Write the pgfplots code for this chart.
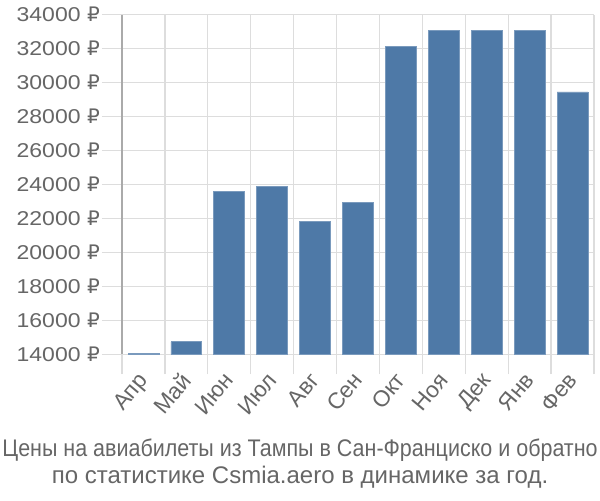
\documentclass[border=0pt]{standalone}
\usepackage{pgfplots}
\pgfplotsset{compat=1.18}
\usepackage{fontspec}
\setmainfont{Liberation Sans}
\newfontfamily\narrowfont{Liberation Sans}[FakeStretch=0.895]
\newfontfamily\widefont{Liberation Sans}[FakeStretch=1.15]
\newfontfamily\rubfont{DejaVu Sans}
\newcommand{\rub}{{\rubfont ₽}}
\definecolor{barblue}{HTML}{4E79A7}
\definecolor{txt}{HTML}{666666}
\definecolor{gridc}{HTML}{DDDDDD}
\definecolor{axc}{HTML}{AAAAAA}
\begin{document}
\begin{tikzpicture}[x=1pt,y=1pt]
\useasboundingbox (-91.5,-109.3) rectangle (358.5,265.7);
\begin{axis}[
  at={(0,0)}, anchor=south west,
  scale only axis, width=354pt, height=254.7pt,
  xmin=-0.5, xmax=10.5, ymin=14000, ymax=34000,
  ybar, bar width=0.72,
  axis x line*=bottom, axis y line*=left,
  x axis line style={draw=gridc, line width=1pt, -},
  y axis line style={draw=axc, line width=1pt, -},
  xtick={0,...,10},
  xticklabels={Апр,Май,Июн,Июл,Авг,Сен,Окт,Ноя,Дек,Янв,Фев},
  minor xtick={-0.5,0.5,...,10.5},
  ytick={14000,16000,...,34000},
  scaled y ticks=false,
  yticklabels={14000 \rub,16000 \rub,18000 \rub,20000 \rub,22000 \rub,24000 \rub,26000 \rub,28000 \rub,30000 \rub,32000 \rub,34000 \rub},
  xminorgrids, ymajorgrids,
  grid style={draw=gridc, line width=1pt},
  minor grid style={draw=gridc, line width=1pt},
  tick align=outside,
  major tick length=15pt, minor tick length=15pt,
  tick style={draw=gridc, line width=1pt},
  every major x tick/.style={draw=none},
  yticklabel style={font=\widefont\fontsize{15}{18}\selectfont, text=txt, anchor=east, inner sep=1.5pt},
  xticklabel style={font=\fontsize{17}{20}\selectfont, text=txt, rotate=50, anchor=north east, inner sep=1pt, xshift=0pt, yshift=6.5pt},
  clip=false,
]
\addplot[fill=barblue, draw=barblue!75!white, line width=0.6pt] coordinates {
  (0,14050) (1,14730) (2,23570) (3,23860) (4,21820) (5,22940)
  (6,32140) (7,33060) (8,33060) (9,33060) (10,29450)};
\end{axis}
\node[font=\narrowfont\fontsize{18}{20}\selectfont, text=txt, anchor=base] at (133.5,-76.8) {Цены на авиабилеты из Тампы в Сан-Франциско и обратно};
\node[font=\fontsize{18}{20}\selectfont, text=txt, anchor=base] at (133.5,-96.8) {по статистике Csmia.aero в динамике за год.};
\end{tikzpicture}
\end{document}
